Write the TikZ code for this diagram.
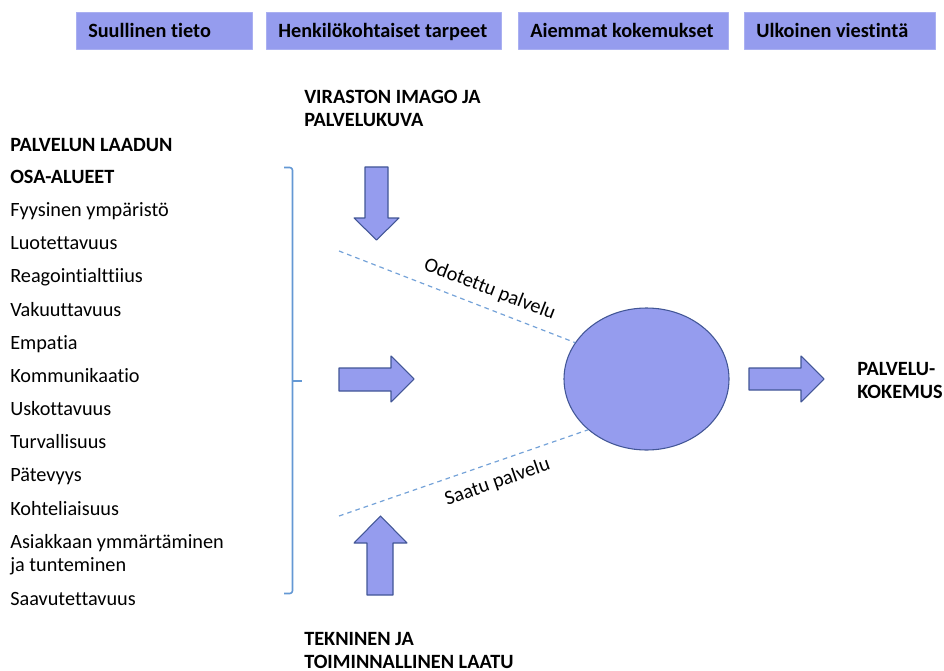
\documentclass[tikz,border=0pt]{standalone}
\usepackage{fontspec}
\setmainfont{Carlito}[Ligatures=NoCommon]
\usetikzlibrary{shapes.geometric}
\definecolor{laatublue}{RGB}{149,156,238}
\definecolor{laatuedge}{RGB}{66,86,150}
\definecolor{sulkublue}{RGB}{100,152,212}
\begin{document}
\begin{tikzpicture}[x=0.75pt,y=-0.75pt,line join=round,
		every node/.style={font=\fontsize{15.2}{17.6}\selectfont,inner sep=0pt},
		otsikko/.style={font=\fontsize{15.2}{17.6}\selectfont\bfseries},
		laatikko/.style={fill=laatublue,draw=laatublue!80!white,line width=0.5pt},
		nuoli/.style={fill=laatublue,draw=laatuedge,line width=0.8pt},
		katko/.style={draw=sulkublue!90!white,dash pattern=on 3.5pt off 3pt,line width=0.9pt}]
		\useasboundingbox (0,0) rectangle (944,670);
		% ylarivi
		\foreach \xa/\xb/\teksti [count=\i] in {76/252/Suullinen tieto,266/501/Henkilökohtaiset tarpeet,518/728/Aiemmat kokemukset,744/935/Ulkoinen viestintä}
		{\path[laatikko] (\xa,12) rectangle (\xb,49);
			\node (tekija\i)[otsikko,anchor=base west] at (\xa+12,37.3) {\teksti};}
		
		% vasen lista
		\node (laatu1)[otsikko,anchor=base west] at (10,151.7) {PALVELUN LAADUN};
		\node (laatu2)[otsikko,anchor=base west] at (10,183.5) {OSA-ALUEET};
		\foreach \teksti [count=\i] in {Fyysinen ympäristö,Luotettavuus,Reagointialttiius,Vakuuttavuus,Empatia,Kommunikaatio,Uskottavuus,Turvallisuus,Pätevyys,Kohteliaisuus,Asiakkaan ymmärtäminen}
		{\node (alue\i)[anchor=base west] at (10,{216.5+33.18*(\i-1)}) {\teksti};}
		\node (alue12)[anchor=base west] at (10,571.7) {ja tunteminen};
		\node (alue13)[anchor=base west] at (10,605) {Saavutettavuus};
		\draw[sulkublue,line width=1.2pt,rounded corners=2pt] (284,167.5) -- (292.5,167.5) -- (292.5,593.5) -- (284,593.5);
		\draw[sulkublue,line width=1.2pt] (292.5,381) -- (302,381);
		
		% ylha ja alha
		\node (imago1)[otsikko,anchor=base west] at (304,104) {VIRASTON IMAGO JA};
		\node (imago2)[otsikko,anchor=base west] at (304,127) {PALVELUKUVA};
		\node (tekninen1)[otsikko,anchor=base west] at (304,645.5) {TEKNINEN JA};
		\node (tekninen2)[otsikko,anchor=base west] at (304,668.5) {TOIMINNALLINEN LAATU};
		
		% nuolet
		\draw[nuoli] (365,167) -- (388,167) -- (388,218) -- (399,218) -- (376.5,240) -- (354,218) -- (365,218) -- cycle;
		\draw[nuoli] (339,368) -- (391,368) -- (391,356) -- (414,379) -- (391,402) -- (391,391) -- (339,391) -- cycle;
		\draw[nuoli] (367,595) -- (367,543) -- (354,543) -- (380.5,516) -- (407,543) -- (393,543) -- (393,595) -- cycle;
		\draw[nuoli] (749,368) -- (801,368) -- (801,356) -- (824,379) -- (801,402) -- (801,390) -- (749,390) -- cycle;
		
		% kokemus
		\node (kokemus)[ellipse,nuoli,minimum width=123.75pt,minimum height=106.5pt] at (646.5,379) {};
		\node (tulos1)[otsikko,anchor=base west] at (857,375) {PALVELU-};
		\node (tulos2)[otsikko,anchor=base west] at (857,398.3) {KOKEMUS};
		\coordinate (odotettu) at (339,251);
		\coordinate (saatu) at (339,516);
		\draw[katko] (odotettu) -- node[sloped,pos=0.61,above=7pt]{Odotettu palvelu} (kokemus.153);
		\draw[katko] (saatu) -- node[sloped,pos=0.61,below=8pt]{Saatu palvelu} (kokemus.221);
\end{tikzpicture}
\end{document}
